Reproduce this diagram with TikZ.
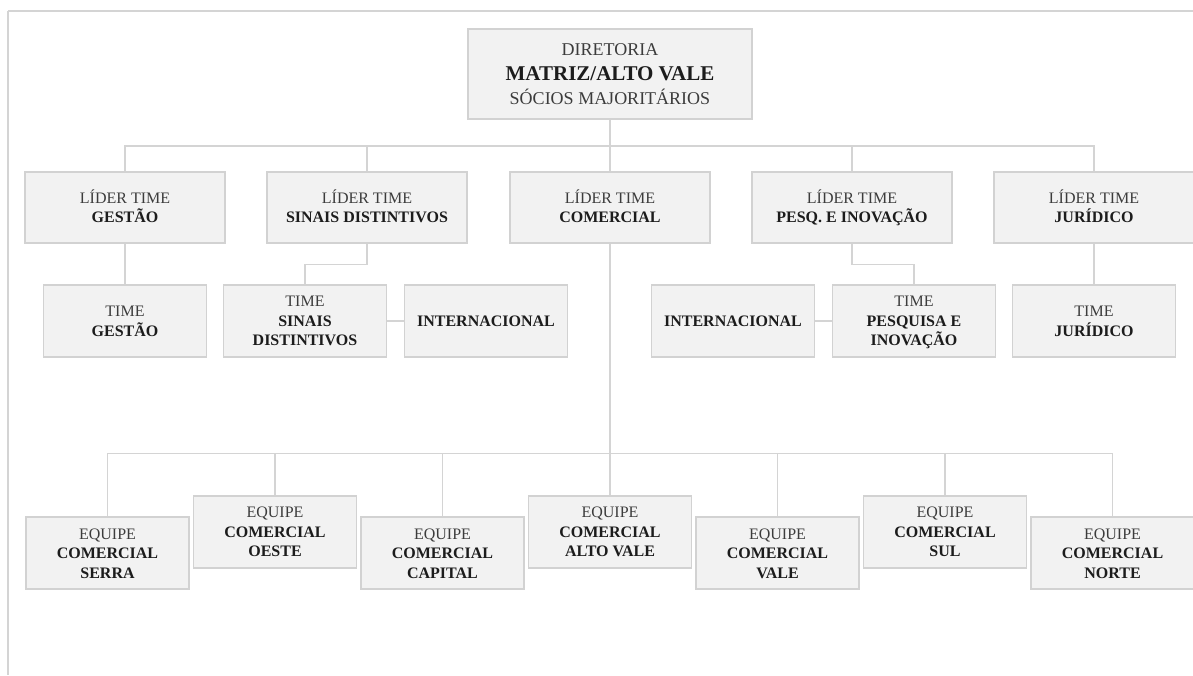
\documentclass[tikz,border=0pt]{standalone}
\usepackage{fontspec}
\setmainfont{Liberation Serif}
\definecolor{boxfill}{HTML}{F2F2F2}
\definecolor{boxline}{HTML}{D2D2D2}
\definecolor{connc}{HTML}{D4D4D4}
\definecolor{txt}{HTML}{3C3C3C}
\definecolor{boldc}{HTML}{1C1C1C}
\newcommand\mystrut{\rule[-4.4pt]{0pt}{19.4pt}}
\newcommand\bigstrut{\rule[-6pt]{0pt}{24pt}}
\newcommand\bt[1]{{\bfseries\color{boldc}\mystrut#1}}
\newcommand\rt[1]{\mystrut#1}
\begin{document}
\begin{tikzpicture}[x=1pt,y=-1pt,
  box/.style={draw=boxline, fill=boxfill, line width=1.6pt, align=center, inner sep=0pt,
              text=txt, font=\fontsize{16}{19.5}\selectfont},
  lead/.style={box, minimum width=200pt, minimum height=71pt},
  team/.style={box, minimum width=163pt, minimum height=72pt},
  conn/.style={draw=connc, line width=1.3pt},
  frame/.style={draw=connc, line width=1.2pt}]
\useasboundingbox (0,0) rectangle (1193,675);
% frame lines
\coordinate (fTL) at (7.5,11);
\coordinate (fTR) at (1193,11);
\coordinate (fBL) at (7.5,675);
\draw[frame] (fTR) -- (fTL);
\draw[frame, line width=2pt] (fTL) -- (fBL);

% top
\node[box, minimum width=284pt, minimum height=90pt, font=\fontsize{18}{24.5}\selectfont] (dir) at (610,74)
  {\bigstrut DIRETORIA\\{\fontsize{21}{24.5}\selectfont\bfseries\color{boldc}\bigstrut MATRIZ/ALTO VALE}\\\bigstrut SÓCIOS MAJORITÁRIOS};

% level 2
\node[lead] (lg) at (125,207.5) {\rt{LÍDER TIME}\\\bt{GESTÃO}};
\node[lead] (ls) at (367,207.5) {\rt{LÍDER TIME}\\\bt{SINAIS DISTINTIVOS}};
\node[lead] (lc) at (610,207.5) {\rt{LÍDER TIME}\\\bt{COMERCIAL}};
\node[lead] (lp) at (852,207.5) {\rt{LÍDER TIME}\\\bt{PESQ. E INOVAÇÃO}};
\node[lead] (lj) at (1094,207.5) {\rt{LÍDER TIME}\\\bt{JURÍDICO}};

% level 3
\node[team] (tg) at (125,321) {\rt{TIME}\\\bt{GESTÃO}};
\node[team] (ts) at (305,321) {\rt{TIME}\\\bt{SINAIS}\\\bt{DISTINTIVOS}};
\node[team] (ti1) at (486,321) {\bt{INTERNACIONAL}};
\node[team] (ti2) at (733,321) {\bt{INTERNACIONAL}};
\node[team] (tp) at (914,321) {\rt{TIME}\\\bt{PESQUISA E}\\\bt{INOVAÇÃO}};
\node[team] (tj) at (1094,321) {\rt{TIME}\\\bt{JURÍDICO}};

% bottom
\node[team] (es) at (107.5,553.25) {\rt{EQUIPE}\\\bt{COMERCIAL}\\\bt{SERRA}};
\node[team] (eo) at (275,531.75) {\rt{EQUIPE}\\\bt{COMERCIAL}\\\bt{OESTE}};
\node[team] (ec) at (442.5,553.25) {\rt{EQUIPE}\\\bt{COMERCIAL}\\\bt{CAPITAL}};
\node[team] (ea) at (610,531.75) {\rt{EQUIPE}\\\bt{COMERCIAL}\\\bt{ALTO VALE}};
\node[team] (ev) at (777.5,553.25) {\rt{EQUIPE}\\\bt{COMERCIAL}\\\bt{VALE}};
\node[team] (esu) at (945,531.75) {\rt{EQUIPE}\\\bt{COMERCIAL}\\\bt{SUL}};
\node[team] (en) at (1112.5,553.25) {\rt{EQUIPE}\\\bt{COMERCIAL}\\\bt{NORTE}};

% connectors level 1 -> 2
\coordinate (b1) at (610,146);
\draw[conn] (dir.south) -- (lc.north);
\draw[conn] (lg.north) |- (b1) -| (lj.north);
\draw[conn] (ls.north) -- (ls.north |- b1);
\draw[conn] (lp.north) -- (lp.north |- b1);

% level 2 -> 3
\draw[conn] (lg.south) -- (tg.north);
\draw[conn] (lj.south) -- (tj.north);
\draw[conn] (ls.south) -- ++(0,21) -| (ts.north);
\draw[conn] (lp.south) -- ++(0,21) -| (tp.north);
\draw[conn] (ts.east) -- (ti1.west);
\draw[conn] (ti2.east) -- (tp.west);

% commercial teams
\coordinate (b2) at (610,453.3);
\draw[conn] (lc.south) -- (ea.north);
\draw[conn] (es.north) |- (b2) -| (en.north);
\draw[conn] (eo.north) -- (eo.north |- b2);
\draw[conn] (ec.north) -- (ec.north |- b2);
\draw[conn] (ev.north) -- (ev.north |- b2);
\draw[conn] (esu.north) -- (esu.north |- b2);
\end{tikzpicture}
\end{document}
